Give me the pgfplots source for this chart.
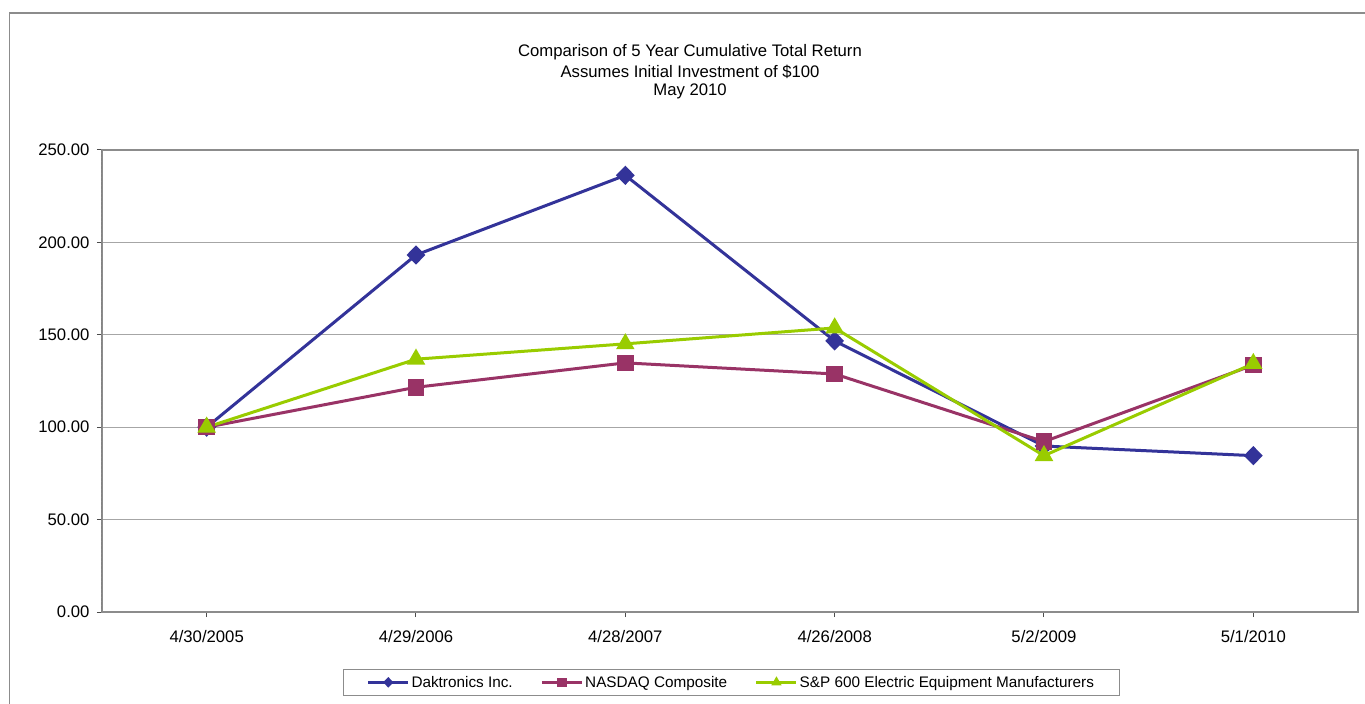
\documentclass[border=0pt]{standalone}
\usepackage{pgfplots}
\pgfplotsset{compat=1.18}
\usepackage{fontspec}
\setmainfont{Liberation Sans}
\definecolor{dak}{HTML}{333399}
\definecolor{nas}{HTML}{993366}
\definecolor{snp}{HTML}{99CC00}
\definecolor{grd}{HTML}{A6A6A6}
\definecolor{frm}{HTML}{8C8C8C}

\begin{document}
\begin{tikzpicture}
\useasboundingbox (0bp,0bp) rectangle (1365bp,704bp);
\draw[frm, line width=1.5bp] (9.5bp,-10bp) -- (9.5bp,691bp) -- (1375bp,691bp);
\begin{scope}[every node/.style={anchor=base, font=\fontsize{16.7bp}{20bp}\selectfont}]
\node at (690bp,647.3bp) {Comparison of 5 Year Cumulative Total Return};
\node at (690bp,626.7bp) {Assumes Initial Investment of \$100};
\node at (690bp,608.3bp) {May 2010};
\end{scope}
\begin{axis}[
  at={(102bp,92bp)}, anchor=south west,
  scale only axis, width=1256bp, height=462bp,
  xmin=-0.5, xmax=5.5, ymin=0, ymax=250,
  xtick={0,...,5},
  xticklabels={4/30/2005,4/29/2006,4/28/2007,4/26/2008,5/2/2009,5/1/2010},
  ytick={0,50,...,250},
  xtick pos=bottom, ytick pos=left,
  tick align=outside, major tick length=5bp,
  tick style={black!70, line width=1bp},
  ymajorgrids, grid style={grd, line width=1bp},
  axis line style={frm, line width=1.5bp},
  /pgf/number format/assume math mode=true,
  yticklabel={\pgfmathprintnumber[fixed,fixed zerofill,precision=2]{\tick}},
  ticklabel style={font=\fontsize{16.7bp}{20bp}\selectfont},
  yticklabel style={xshift=-4bp},
  xticklabel style={yshift=-10bp},
  legend columns=3,
  legend style={at={(axis description cs:0.5012,-0.1526)}, anchor=center,
    draw=frm, line width=1bp, inner xsep=24bp, inner ysep=5bp,
    font=\fontsize{15.3bp}{18bp}\selectfont,
    nodes={inner sep=2bp, anchor=base west},
    /tikz/every even column/.append style={column sep=26bp}},
  legend cell align=left,
  legend image code/.code={
    \draw[mark repeat=2, mark phase=2, #1, line width=2.5bp, mark size=3.5bp]
      plot coordinates {(0bp,5bp) (20bp,5bp) (40bp,5bp)};},
]
\addplot[dak, line width=3bp, mark=diamond*, mark size=7.5bp, mark options={xscale=1.3}]
  coordinates {(0,100) (1,193.2) (2,236.3) (3,146.7) (4,89.8) (5,84.6)};
\addlegendentry{Daktronics Inc.}
\addplot[nas, line width=3bp, mark=square*, mark size=6.8bp]
  coordinates {(0,100) (1,121.6) (2,134.8) (3,128.8) (4,92.2) (5,133.6)};
\addlegendentry{NASDAQ Composite}
\addplot[snp, line width=3bp, mark=triangle*, mark size=7.7bp]
  coordinates {(0,100) (1,136.8) (2,145.1) (3,153.7) (4,84.6) (5,134.4)};
\addlegendentry{S\&P 600 Electric Equipment Manufacturers}
\draw[black!70, line width=1bp, dash pattern=on 3bp off 1bp]
  (rel axis cs:0,1) -- (rel axis cs:0,0) -- (rel axis cs:1,0);
\end{axis}
\end{tikzpicture}
\end{document}
